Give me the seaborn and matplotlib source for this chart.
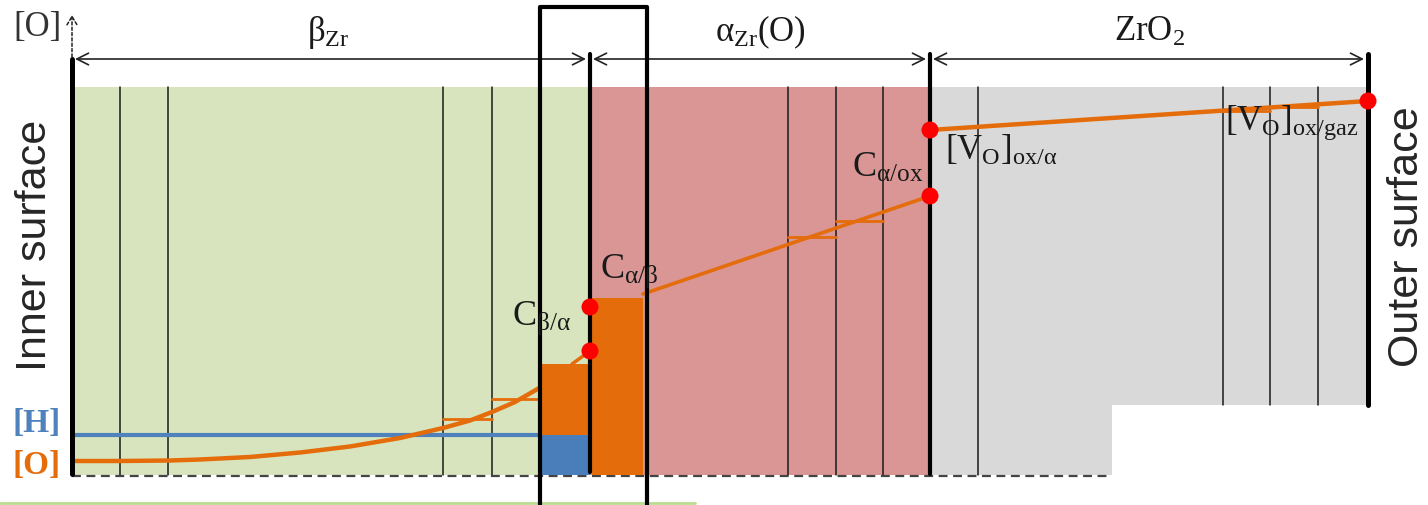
import matplotlib
matplotlib.use("Agg")
import matplotlib.pyplot as plt
import seaborn as sns

sns.set_theme(style="white")
plt.rcParams["mathtext.fontset"] = "custom"
plt.rcParams["mathtext.rm"] = "Liberation Serif"
plt.rcParams["mathtext.it"] = "Liberation Serif"
plt.rcParams["mathtext.bf"] = "Liberation Serif:bold"
plt.rcParams["font.family"] = ["Liberation Serif", "DejaVu Serif"]

# layer boundaries (position along the clad, arbitrary units)
interfaces = [72, 590, 930, 1368]
layer_names = [r"$\beta_{\mathrm{Zr}}$", r"$\alpha_{\mathrm{Zr}}(\mathrm{O})$", r"$\mathrm{ZrO_2}$"]
layer_colors = ["#d7e4bd", "#d99694", "#d9d9d9"]
layer_top = 388
oxide_cut_x = 1112
oxide_cut_y = 70

# mesh nodes in each layer
mesh_beta = [120, 168, 443, 492]
mesh_alpha = [788, 836, 883]
mesh_oxide = [978, 1223, 1270, 1318]

# oxygen profile in beta
beta_x = [72, 120, 170, 200, 250, 300, 350, 400, 443, 470, 492, 515, 541]
beta_O = [14, 14, 14.5, 15.5, 18, 22.5, 28.5, 37, 47, 54.5, 63, 73, 88]
beta_tail_x = [572, 590]
beta_tail_O = [111, 124]
beta_steps = [(443, 492, 56), (492, 541, 76)]

# oxygen profile in alpha
alpha_x = [643, 930]
alpha_O = [181, 279]
alpha_steps = [(788, 836, 238), (836, 883, 254)]

# vacancy profile in the oxide
oxide_x = [930, 1368]
oxide_V = [345, 374]
oxide_steps = [(1223, 1270, 364), (1270, 1318, 368)]

# hydrogen level
H_level = 40

# transferred cell (box) and its O / H columns
box_x = [540, 647]
cell_beta = [541, 590]
cell_alpha = [592, 643]
cell_beta_O = 111
cell_alpha_O = 177

# interface concentrations
dot_x = [590, 590, 930, 930, 1368]
dot_y = [124, 168, 279, 345, 374]

orange = "#e46c0a"
blue = "#4f81bd"

fig = plt.figure(figsize=(14.28, 5.06), dpi=100)
ax = fig.add_axes([0, 0, 1, 1])
ax.set_xlim(0, 1428)
ax.set_ylim(-30, 476)
ax.axis("off")

# layers
ax.fill_between(interfaces[0:2], 0, layer_top, color=layer_colors[0], lw=0, zorder=0)
ax.fill_between(interfaces[1:3], 0, layer_top, color=layer_colors[1], lw=0, zorder=0)
ax.fill_between([interfaces[2], oxide_cut_x], 0, layer_top, color=layer_colors[2], lw=0, zorder=0)
ax.fill_between([oxide_cut_x, interfaces[3]], oxide_cut_y, layer_top, color=layer_colors[2], lw=0, zorder=0)

# mesh lines
for xm in mesh_beta + mesh_alpha + mesh_oxide:
    bottom = oxide_cut_y if xm > oxide_cut_x else 0
    ax.plot([xm, xm], [bottom, layer_top], color="#1a1a1a", lw=1.1, zorder=1)

# baseline
ax.plot([interfaces[0], oxide_cut_x], [-1, -1], color="#444444", lw=1.6,
        dashes=(4, 2.5), zorder=1)

# hydrogen
ax.plot([interfaces[0], cell_beta[0]], [H_level, H_level], color=blue, lw=3, zorder=2)

# oxygen / vacancy profiles
sns.lineplot(x=beta_x, y=beta_O, ax=ax, color=orange, lw=3.2, zorder=2)
sns.lineplot(x=beta_tail_x, y=beta_tail_O, ax=ax, color=orange, lw=2.5, zorder=2)
sns.lineplot(x=alpha_x, y=alpha_O, ax=ax, color=orange, lw=2.6, zorder=2)
sns.lineplot(x=oxide_x, y=oxide_V, ax=ax, color=orange, lw=3.2, zorder=2)
for x0, x1, yv in beta_steps + alpha_steps + oxide_steps:
    ax.plot([x0, x1], [yv, yv], color=orange, lw=2, zorder=2)

# cell columns
ax.bar(cell_beta[0], H_level, width=cell_beta[1] - cell_beta[0], align="edge",
       color="#4a7ebb", lw=0, zorder=3)
ax.bar(cell_beta[0], cell_beta_O - H_level, bottom=H_level, width=cell_beta[1] - cell_beta[0],
       align="edge", color=orange, lw=0, zorder=3)
ax.bar(cell_alpha[0], cell_alpha_O, width=cell_alpha[1] - cell_alpha[0], align="edge",
       color=orange, lw=0, zorder=3)

# interfaces
ax.plot([interfaces[0]] * 2, [1, 416], color="black", lw=3.6, zorder=4)
ax.plot([interfaces[1]] * 2, [3, 421], color="black", lw=3, zorder=4)
ax.plot([interfaces[2]] * 2, [1, 421], color="black", lw=3, zorder=4)
ax.plot([interfaces[3]] * 2, [oxide_cut_y, 421], color="black", lw=3.6, zorder=4)

# dimension arrows
for x0, x1 in zip(interfaces[:-1], interfaces[1:]):
    ax.annotate("", xy=(x1 - 4, 416), xytext=(x0 + 3, 416),
                arrowprops=dict(arrowstyle="<->,head_length=0.7,head_width=0.35",
                                lw=1.2, color="#222222", shrinkA=0, shrinkB=0))
ax.annotate("", xy=(interfaces[0], 460), xytext=(interfaces[0], 418),
            arrowprops=dict(arrowstyle="->,head_length=0.5,head_width=0.3",
                            lw=1.1, ls=(0, (2, 1.5)), color="#222222",
                            shrinkA=0, shrinkB=0))

# interface dots
sns.scatterplot(x=dot_x, y=dot_y, ax=ax, color="#ff0000", s=150, edgecolor="none", zorder=5)

# the cell box
ax.plot([box_x[0], box_x[0], box_x[1], box_x[1]], [-40, 468, 468, -40],
        color="black", lw=3, zorder=6, solid_joinstyle="round")

# thin line at the bottom
ax.plot([0, 695], [-28, -28], color="#b9dc8e", lw=2, zorder=1)

# labels
centers = [328, 760, 1150]
for xc, name in zip(centers, layer_names):
    ax.text(xc, 444, name, fontsize=25, ha="center", va="center", color="#1a1a1a")

ax.text(37, 449, "[O]", fontsize=25, ha="center", va="center", color="#333333")
ax.text(37, 52, "[H]", fontsize=24, ha="center", va="center", color=blue, fontweight="bold")
ax.text(37, 10, "[O]", fontsize=24, ha="center", va="center", color=orange, fontweight="bold")

ax.text(512, 151, r"$\mathrm{C}_{\beta/\alpha}$", fontsize=26, color="#1a1a1a", va="baseline", zorder=7)
ax.text(600, 198, r"$\mathrm{C}_{\alpha/\beta}$", fontsize=26, color="#1a1a1a", va="baseline", zorder=7)
ax.text(852, 299, r"$\mathrm{C}_{\alpha/\mathrm{ox}}$", fontsize=26, color="#1a1a1a", va="baseline", zorder=7)
ax.text(945, 316, r"$[\mathrm{V_O}]_{\mathrm{ox}/\alpha}$", fontsize=25, color="#1a1a1a", va="baseline", zorder=7)
ax.text(1225, 346, r"$[\mathrm{V_O}]_{\mathrm{ox/gaz}}$", fontsize=25, color="#1a1a1a", va="baseline", zorder=7)

ax.text(35, 231, "Inner surface", fontsize=31, rotation=90, ha="center", va="center",
        family=["Liberation Sans", "DejaVu Sans"])
ax.text(1407, 239, "Outer surface", fontsize=31, rotation=90, ha="center", va="center",
        family=["Liberation Sans", "DejaVu Sans"])

fig.savefig("out.png", dpi=100)
